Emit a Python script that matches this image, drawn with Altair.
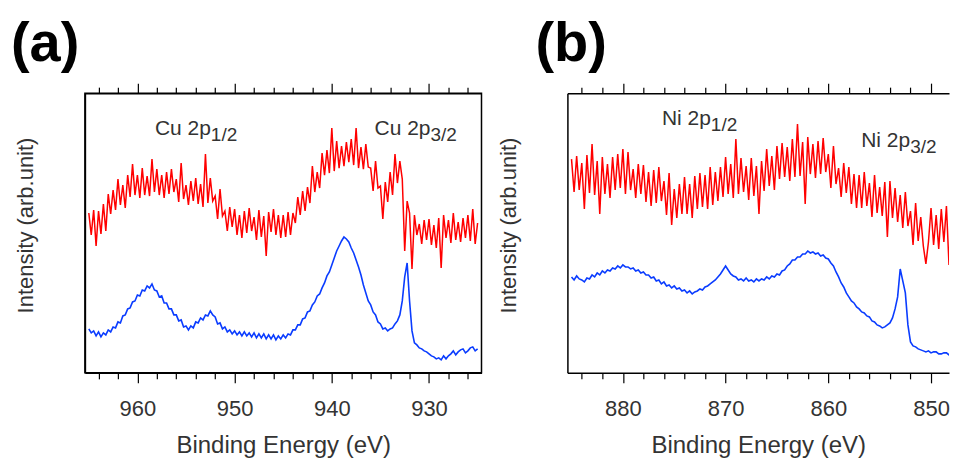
import altair as alt
import pandas as pd

FONT = "Liberation Sans"
TXT = "#333333"
RED = "#ff0000"
BLUE = "#0a3cff"

# ---------------- Panel (a): Cu 2p (binding energy in eV, intensity in arb. units)
cu_red_start, cu_red_step = 965.0, 0.25
cu_red = [
    160, 138, 163, 127,  162, 139, 169, 142,
    179, 159, 183, 163,  194, 168, 188, 165,
    198, 176, 209, 178,  198, 175, 205, 178,
    197, 177, 214, 181,  204, 178, 198, 175,
    201, 179, 204, 181,  194, 171, 210, 174,
    188, 168, 192, 172,  195, 169, 189, 166,
    219, 170, 195, 172,  177, 154, 184, 157,
    162, 142, 166, 146,  164, 138, 158, 135,
    162, 140, 165, 142,  156, 133, 163, 136,
    157, 117, 161, 141,  164, 138, 158, 135,
    158, 136, 161, 138,  160, 150, 176, 158,
    182, 162, 186, 170,  207, 181, 201, 185,
    220, 198, 223, 200,  245, 202, 232, 205,
    227, 207, 231, 211,  234, 208, 245, 205,
    226, 204, 229, 206,  205, 182, 212, 185,
    187, 154, 191, 171,  201, 178, 219, 190,
    212, 194, 122, 172,  160, 104, 158, 138,
    149, 129, 153, 133,  154, 128, 148, 125,
    155, 105, 158, 135,  153, 130, 160, 133,
    151, 131, 155, 135,  158, 132, 164, 129,
    150,
]
cu_blue_start, cu_blue_step = 965.0, 0.25
cu_blue = [
    44, 40, 42, 37, 41, 36, 40, 38,
    43, 41, 46, 45, 51, 50, 57, 58,
    64, 65, 71, 72, 78, 77, 83, 82,
    87, 85, 89, 83, 82, 76, 77, 70,
    70, 64, 64, 58, 58, 52, 53, 46,
    47, 43, 47, 45, 51, 50, 55, 53,
    58, 57, 62, 58, 56, 49, 50, 44,
    46, 41, 43, 39, 42, 38, 41, 37,
    41, 37, 40, 36, 40, 35, 39, 35,
    39, 34, 38, 34, 38, 33, 37, 34,
    38, 35, 39, 38, 43, 43, 48, 48,
    54, 55, 61, 62, 68, 71, 77, 79,
    85, 90, 97, 101, 108, 115, 122, 127,
    132, 136, 134, 131, 125, 120, 113, 106,
    98, 88, 80, 72, 68, 61, 58, 51,
    49, 44, 45, 42, 44, 45, 49, 52,
    58, 72, 96, 110, 72, 42, 30, 28,
    25, 24, 22, 21, 19, 17, 16, 14,
    15, 13, 17, 14, 17, 19, 22, 18,
    21, 23, 24, 20, 22, 25, 26, 22,
    24,
]
cu_domain = [965.4, 924.6]
cu_ticks = list(range(926, 965, 2))
cu_main = ["Cu 2p", "Cu 2p"]
cu_sub = ["1/2", "3/2"]
cu_lab_E = [958.2, 935.6]
cu_lab_I = [238, 238]

# ---------------- Panel (b): Ni 2p
ni_red_start, ni_red_step = 885.0, 0.25
ni_red = [
    214, 181, 217, 183,  210, 164, 218, 180,
    229, 178, 212, 159,  216, 179, 209, 175,
    216, 183, 219, 185,  224, 179, 221, 183,
    204, 175, 209, 179,  208, 171, 201, 167,
    203, 170, 206, 172,  192, 158, 200, 148,
    184, 155, 189, 159,  196, 159, 189, 155,
    197, 164, 200, 166,  198, 164, 206, 168,
    201, 172, 206, 176,  216, 179, 209, 175,
    234, 179, 215, 181,  207, 173, 215, 177,
    207, 159, 212, 182,  224, 187, 217, 183,
    227, 194, 230, 196,  226, 192, 234, 196,
    249, 197, 231, 169,  236, 199, 229, 195,
    232, 199, 235, 201,  219, 185, 227, 189,
    205, 176, 210, 180,  206, 169, 199, 165,
    198, 165, 201, 167,  190, 156, 198, 160,
    186, 157, 191, 136,  192, 155, 185, 151,
    178, 145, 181, 147,  162, 128, 170, 132,
    156, 127, 109, 131,  165, 128, 158, 124,
    164, 131, 167, 108,  161, 127, 169, 131,
    160,
]
ni_blue_start, ni_blue_step = 885.0, 0.25
ni_blue = [
    96, 93, 97, 94, 93, 91, 95, 94,
    98, 96, 100, 98, 102, 100, 103, 102,
    105, 104, 107, 105, 108, 106, 106, 104,
    105, 102, 103, 100, 101, 98, 98, 95,
    96, 92, 93, 89, 91, 87, 88, 85,
    87, 84, 85, 82, 83, 80, 82, 79,
    81, 82, 84, 83, 86, 87, 89, 91,
    93, 96, 99, 103, 107, 103, 99, 97,
    96, 93, 94, 92, 95, 92, 93, 91,
    94, 92, 94, 93, 96, 94, 97, 96,
    99, 98, 102, 103, 107, 109, 113, 113,
    116, 116, 119, 119, 122, 120, 121, 119,
    120, 117, 118, 115, 114, 110, 107, 101,
    96, 90, 86, 80, 76, 72, 70, 66,
    64, 61, 60, 57, 56, 52, 51, 48,
    47, 45, 46, 48, 50, 55, 64, 76,
    104, 92, 80, 48, 31, 27, 26, 24,
    23, 22, 21, 22, 20, 21, 21, 19,
    19, 20, 20, 18, 18, 19, 19, 18,
    18,
]
ni_domain = [885.4, 848.25]
ni_ticks = list(range(850, 885, 2))
ni_main = ["Ni 2p", "Ni 2p"]
ni_sub = ["1/2", "3/2"]
ni_lab_E = [876.2, 856.8]
ni_lab_I = [248, 226]


def series(start, step, vals):
    return pd.DataFrame({"E": [start - i * step for i in range(len(vals))], "I": vals})


def panel(red, blue, dom, ticks, main, sub, lab_E, lab_I, title, title_dx, width, sub_dx, frame):
    xs = alt.Scale(domain=dom, zero=False, nice=False)
    ys = alt.Scale(domain=[0, 280], zero=False, nice=False)
    tsize = {"condition": {"test": "datum.value % 10 === 0", "value": 10}, "value": 6}
    common = dict(
        values=ticks, tickSize=tsize, tickColor="black", tickWidth=1.2,
        domainColor="black", domainWidth=1.5, grid=False, labelOverlap=False, labelFlush=False,
    )
    bottom = alt.Axis(
        orient="bottom", labelExpr="datum.value % 10 === 0 ? datum.label : ''",
        labelFont=FONT, labelFontSize=22, labelColor=TXT, labelPadding=16,
        title="Binding Energy (eV)", titleFont=FONT, titleFontSize=24, titleFontWeight="normal",
        titleColor=TXT, titlePadding=14, **common,
    )
    top = alt.Axis(orient="top", labels=False, title=None, **common)
    yax = alt.Axis(
        title="Intensity (arb.unit)", labels=False, ticks=False, grid=False,
        domainColor="black", domainWidth=1.5, titleFont=FONT, titleFontSize=22,
        titleFontWeight="normal", titleColor=TXT, titlePadding=47, titleY=132,
    )
    rl = alt.Chart(red).mark_line(color=RED, strokeWidth=1.5, clip=True).encode(
        x=alt.X("E:Q", scale=xs, axis=bottom), y=alt.Y("I:Q", scale=ys, axis=yax))
    bl = alt.Chart(blue).mark_line(color=BLUE, strokeWidth=1.6, clip=True).encode(
        x=alt.X("E:Q", scale=xs, axis=None), y=alt.Y("I:Q", scale=ys, axis=yax))
    tl = alt.Chart(blue).mark_line(opacity=0, clip=True).encode(
        x=alt.X("E:Q", scale=xs, axis=top), y=alt.Y("I:Q", scale=ys, axis=yax))
    lab = pd.DataFrame({"E": lab_E, "I": lab_I, "main": main, "sub": sub})
    mt = alt.Chart(lab).mark_text(
        align="left", baseline="alphabetic", font=FONT, fontSize=21, color=TXT).encode(
        x=alt.X("E:Q", scale=xs, axis=None), y=alt.Y("I:Q", scale=ys, axis=yax), text="main:N")
    st = alt.Chart(lab).mark_text(
        align="left", baseline="alphabetic", font=FONT, fontSize=19, color=TXT,
        dx=sub_dx, dy=6).encode(
        x=alt.X("E:Q", scale=xs, axis=None), y=alt.Y("I:Q", scale=ys, axis=yax), text="sub:N")
    view = alt.ViewBackground(stroke="black", strokeWidth=1.5) if frame else \
        alt.ViewBackground(stroke="transparent", strokeWidth=0)
    return alt.layer(rl, bl, tl, mt, st).resolve_axis(x="independent").properties(
        width=width, height=280, view=view,
        title=alt.TitleParams(title, anchor="start", fontSize=56, fontWeight="bold",
                              font=FONT, color="black", dx=title_dx, offset=10),
    )


pa = panel(series(cu_red_start, cu_red_step, cu_red), series(cu_blue_start, cu_blue_step, cu_blue),
           cu_domain, cu_ticks, cu_main, cu_sub, cu_lab_E, cu_lab_I, "(a)", -4, 397, 56, True)
pb = panel(series(ni_red_start, ni_red_step, ni_red), series(ni_blue_start, ni_blue_step, ni_blue),
           ni_domain, ni_ticks, ni_main, ni_sub, ni_lab_E, ni_lab_I, "(b)", 38, 382, 49, False)

chart = alt.hconcat(pa, pb, spacing=15).properties(
    padding={"left": 2, "top": 6, "right": 0, "bottom": 0}, background="white")

chart.save("out.html", embed_options={"renderer": "svg", "actions": False})
